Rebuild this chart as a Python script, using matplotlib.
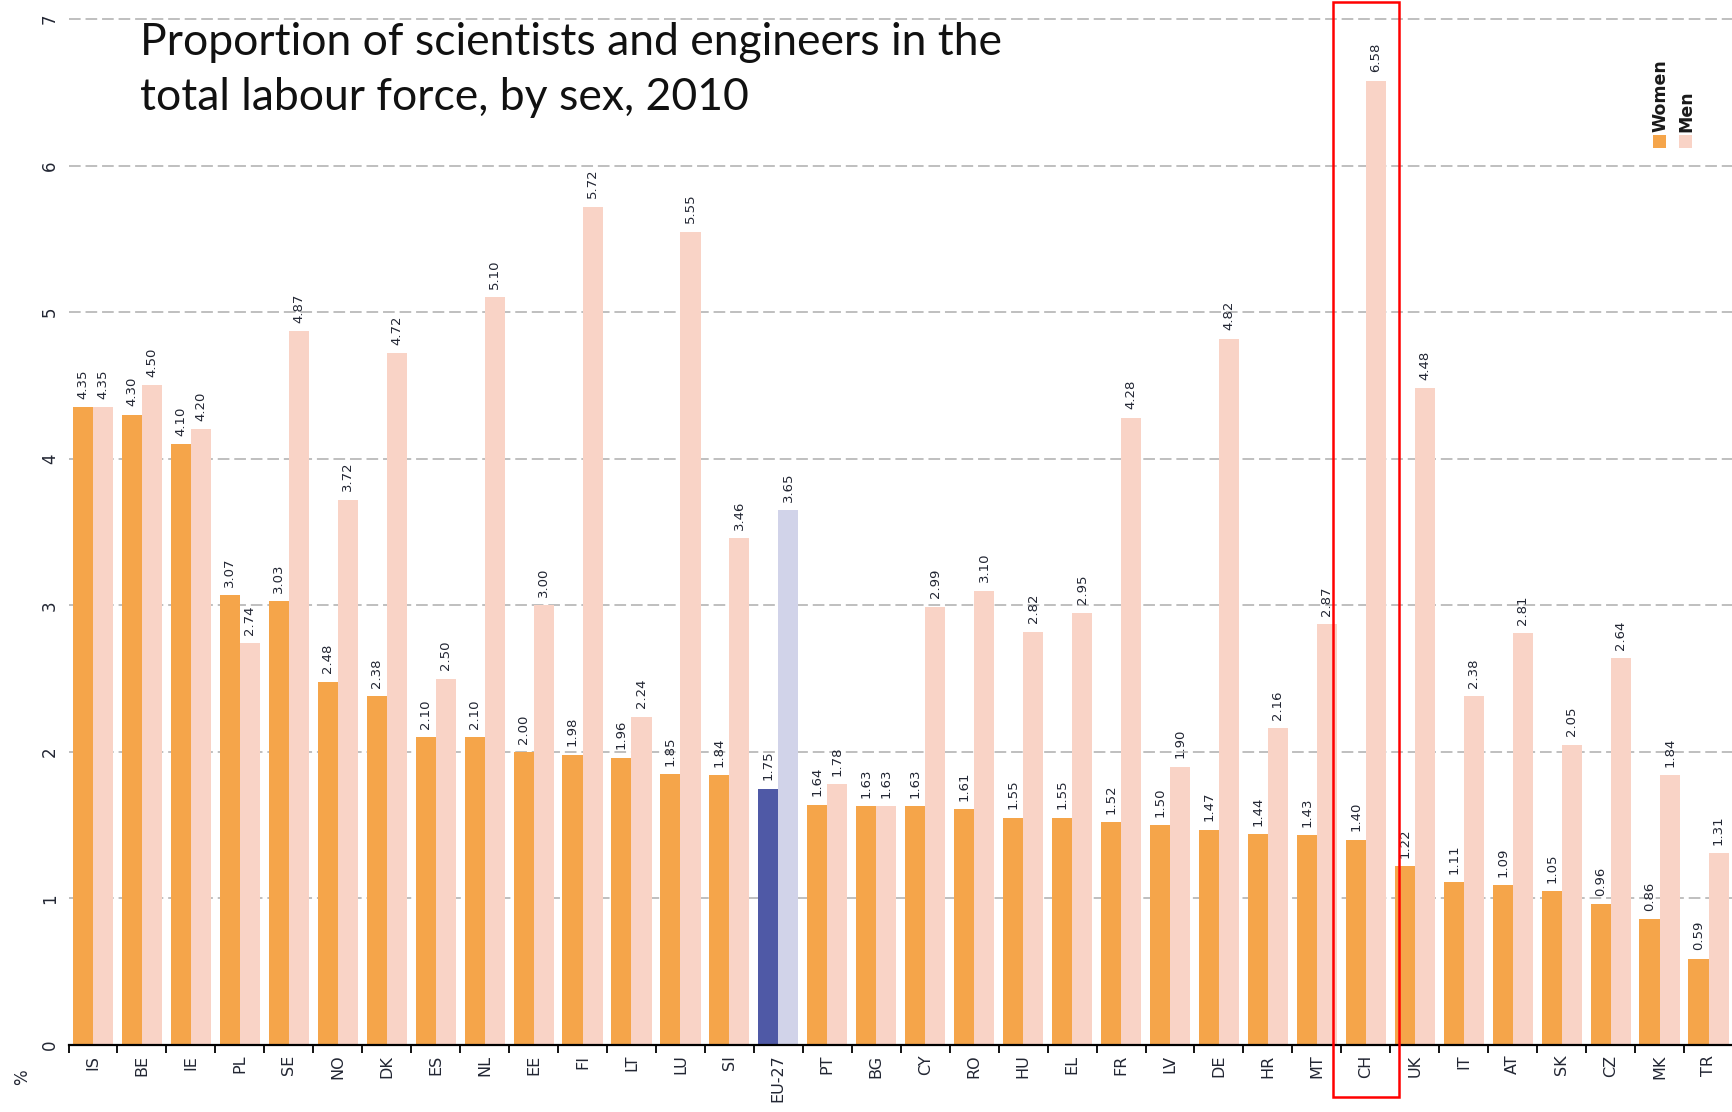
import matplotlib
matplotlib.use("Agg")
import matplotlib.pyplot as plt
from matplotlib.patches import Rectangle
import numpy as np

countries = ["IS", "BE", "IE", "PL", "SE", "NO", "DK", "ES", "NL", "EE", "FI", "LT",
             "LU", "SI", "EU-27", "PT", "BG", "CY", "RO", "HU", "EL", "FR", "LV", "DE",
             "HR", "MT", "CH", "UK", "IT", "AT", "SK", "CZ", "MK", "TR"]
women = [4.35, 4.30, 4.10, 3.07, 3.03, 2.48, 2.38, 2.10, 2.10, 2.00, 1.98, 1.96,
         1.85, 1.84, 1.75, 1.64, 1.63, 1.63, 1.61, 1.55, 1.55, 1.52, 1.50, 1.47,
         1.44, 1.43, 1.40, 1.22, 1.11, 1.09, 1.05, 0.96, 0.86, 0.59]
men = [4.35, 4.50, 4.20, 2.74, 4.87, 3.72, 4.72, 2.50, 5.10, 3.00, 5.72, 2.24,
       5.55, 3.46, 3.65, 1.78, 1.63, 2.99, 3.10, 2.82, 2.95, 4.28, 1.90, 4.82,
       2.16, 2.87, 6.58, 4.48, 2.38, 2.81, 2.05, 2.64, 1.84, 1.31]
series_names = ["Women", "Men"]
highlight = "EU-27"
boxed = "CH"
title_lines = ["Proportion of scientists and engineers in the",
               "total labour force, by sex, 2010"]

W, H = 1733, 1112
fig = plt.figure(figsize=(W / 100, H / 100), dpi=100)
ax = fig.add_axes([68.5 / W, 67 / H, 1 - 68.5 / W, 1 - 67 / H])

c_women, c_men = "#F5A54A", "#F9D3C6"
c_women_eu, c_men_eu = "#4F59A6", "#D1D3E9"
txt = "#222633"

x = np.arange(len(countries))
bw = 0.41
wcol = [c_women_eu if c == highlight else c_women for c in countries]
mcol = [c_men_eu if c == highlight else c_men for c in countries]
bw_bars = ax.bar(x - bw / 2, women, width=bw, color=wcol, zorder=3)
bm_bars = ax.bar(x + bw / 2, men, width=bw, color=mcol, zorder=3)

for bars, vals in ((bw_bars, women), (bm_bars, men)):
    for b, v in zip(bars, vals):
        ax.annotate(f"{v:.2f}", (b.get_x() + b.get_width() / 2, v),
                    xytext=(0, 6), textcoords="offset points",
                    rotation=90, ha="center", va="bottom",
                    fontsize=9.5, color=txt, zorder=4)

ax.set_xlim(-0.5, (W - 93) / 49.05)
ax.set_ylim(0, 7 + 19 / 146.57)
ax.set_yticks(range(0, 8))
ax.set_yticklabels([str(i) for i in range(0, 8)], rotation=90, va="center",
                   fontsize=12, color=txt)
ax.tick_params(axis="y", length=0, pad=7)

ax.set_xticks(x)
ax.set_xticklabels(countries, rotation=90, fontsize=11.5, color=txt, va="top")
ax.tick_params(axis="x", which="major", length=0, pad=7)
ax.set_xticks(np.arange(-0.5, len(countries) - 0.4, 1.0), minor=True)
ax.tick_params(axis="x", which="minor", length=6, width=1.3, color="black")

ax.grid(axis="y", color="#BFBFBF", linestyle=(0, (6, 2.5)), linewidth=1.4, zorder=0)
for s in ("top", "right", "left"):
    ax.spines[s].set_visible(False)
ax.spines["bottom"].set_linewidth(1.6)
ax.spines["bottom"].set_zorder(5)

# red box around CH
ci = countries.index(boxed)
trans = ax.get_xaxis_transform()
y0_ax = (H - 1097 - 67) / (H - 67)
rect = Rectangle((ci - 0.67, y0_ax), 1.34, 1 - y0_ax - 1.5 / (H - 67),
                 transform=trans, fill=False, edgecolor="#FF0000", linewidth=1.8,
                 clip_on=False, zorder=6)
ax.add_patch(rect)

fig.text(22 / W, 1 - 1077 / H, "%", rotation=90, ha="center", va="center",
         fontsize=12, color=txt)

# title
fig.text(140 / W, 1 - 55 / H, title_lines[0], fontsize=32, family="Lato",
         ha="left", va="baseline", color="#111111")
fig.text(140 / W, 1 - 110 / H, title_lines[1], fontsize=32, family="Lato",
         ha="left", va="baseline", color="#111111")

# legend (rotated)
for i, (name, col) in enumerate(zip(series_names, [c_women, c_men])):
    cx = 1660 + 26 * i
    fig.patches.append(Rectangle(((cx - 6.5) / W, 1 - 148 / H), 13 / W, 13 / H,
                                 transform=fig.transFigure, facecolor=col,
                                 edgecolor="none"))
    fig.text(cx / W, 1 - 132 / H, name, rotation=90, ha="center", va="bottom",
             fontsize=12.5, fontweight="bold", color="#1a1a1a")

fig.savefig("out.png", dpi=100)
